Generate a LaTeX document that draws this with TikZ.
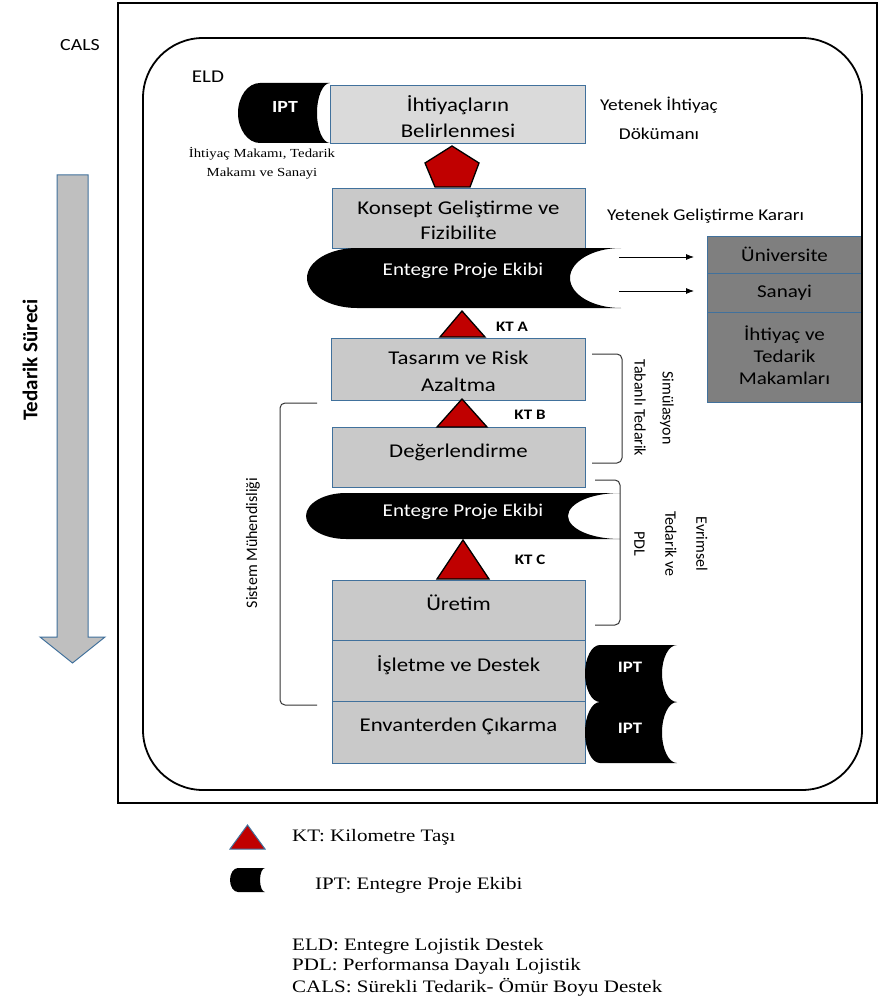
\documentclass[tikz,border=0pt]{standalone}
\usepackage{fontspec}
\setmainfont{Carlito}[FakeStretch=1.17]
\newfontfamily\rotfont{Carlito}
\newfontfamily\seriffont{Liberation Serif}[FakeStretch=1.2]
\usetikzlibrary{arrows.meta}
\definecolor{boxgray}{HTML}{C9C9C9}
\definecolor{lightbox}{HTML}{DADADA}
\definecolor{darkbox}{HTML}{7F7F7F}
\definecolor{boxline}{HTML}{41719C}
\definecolor{ktred}{HTML}{C00000}
\definecolor{arrowgray}{HTML}{BFBFBF}
\newcommand{\fs}[2]{\fontsize{#1}{#2}\selectfont}
\begin{document}
\begin{tikzpicture}[x=1pt,y=-1pt,
  box/.style={draw=boxline, line width=1.2pt, fill=boxgray, inner sep=0pt, anchor=north west, minimum width=253pt},
  rbox/.style={box, fill=darkbox, minimum width=155pt},
  btext/.style={inner sep=0pt, align=center, font=\fs{19.5}{26}},
  rtext/.style={inner sep=0pt, align=center, font=\fs{18}{22}},
  ipttext/.style={inner sep=0pt, text=white, font=\fs{18}{22}},
  iptsmall/.style={inner sep=0pt, text=white, font=\bfseries\fs{16}{20}},
  kt/.style={fill=ktred, draw=black, line width=1.3pt, line join=miter},
  ktlabel/.style={inner sep=0pt, font=\bfseries\fs{14.5}{18}},
  bracket/.style={draw=black!80, line width=1pt, rounded corners=5pt},
  vtext/.style={inner sep=0pt, align=center, font=\rotfont\fs{16}{28}},
  legendtext/.style={inner sep=0pt, anchor=west, font=\seriffont\fs{17.5}{20}},
  conn/.style={-{Latex[length=8pt,width=6pt]}, line width=0.8pt},
  iptfill/.style={fill=black}
]
\useasboundingbox (0,0) rectangle (879,1003);
\fill[white] (0,0) rectangle (879,1003);

% outer frame
\draw[line width=1.8pt] (118,3) rectangle (877,803);

% process arrow
\draw[draw=boxline, fill=arrowgray, line width=1pt, line join=miter]
  (57,175) -- (88,175) -- (88,637) -- (105,637) -- (72.5,663) -- (40,637) -- (57,637) -- cycle;
\node[rotate=90, inner sep=0pt, font=\rotfont\bfseries\fs{21}{24}] (ts) at (30,360) {Tedarik Süreci};

\node[inner sep=0pt, font=\fs{17}{20}] (cals) at (80,45) {CALS};
\node[inner sep=0pt, font=\fs{18}{20}] (eld) at (208,77) {ELD};

% top IPT
\fill[iptfill] (330,83) -- (260,83) arc[start angle=270, end angle=90, x radius=22, y radius=30]
  -- (330,143) arc[start angle=90, end angle=270, x radius=13, y radius=30] -- cycle;
\node[ipttext, font=\bfseries\fs{17}{20}] (ipt0) at (285,107) {IPT};
\node[inner sep=0pt, align=center, font=\seriffont\fs{12.3}{19}] (cap0) at (262,163) {İhtiyaç Makamı, Tedarik\\Makamı ve Sanayi};

% boxes
\node[box, fill=lightbox, minimum width=255pt, minimum height=58pt] (b1) at (330,85) {};
\node[btext] (t1) at (458,117) {İhtiyaçların\\Belirlenmesi};
\node[box, minimum height=60pt] (b2) at (332,188) {};
\node[btext, font=\fs{19.5}{25}] (t2) at (458.5,220.5) {Konsept Geliştirme ve\\Fizibilite};
\node[box, minimum width=254pt, minimum height=62pt] (b3) at (331,338) {};
\node[btext, font=\fs{19.5}{27}] (t3) at (458.5,371.5) {Tasarım ve Risk\\Azaltma};
\node[box, minimum height=60pt] (b4) at (332,427) {};
\node[btext] (t4) at (458.5,452) {Değerlendirme};
\node[box, minimum height=60pt] (b5) at (332,580) {};
\node[btext] (t5) at (458.5,603) {Üretim};
\node[box, minimum height=61pt] (b6) at (332,640) {};
\node[btext] (t6) at (458.5,665) {İşletme ve Destek};
\node[box, minimum height=62pt] (b7) at (332,701) {};
\node[btext] (t7) at (458.5,726) {Envanterden Çıkarma};

% side texts
\node[inner sep=0pt, align=center, font=\fs{16.5}{29}] (yid) at (659,118.5) {Yetenek İhtiyaç\\Dökümanı};
\node[inner sep=0pt, font=\fs{16.5}{20}] (ygk) at (705.5,216) {Yetenek Geliştirme Kararı};

% big IPT 1
\fill[iptfill] (621,248) -- (357,248) arc[start angle=270, end angle=90, x radius=50, y radius=30]
  -- (621,308) arc[start angle=90, end angle=270, x radius=51, y radius=30] -- cycle;
\node[ipttext] (ipt1) at (463,271) {Entegre Proje Ekibi};

% right stack
\node[rbox, minimum height=37pt] (uni) at (707,236) {};
\node[rbox, minimum height=39pt] (san) at (707,273) {};
\node[rbox, minimum height=90pt] (mak) at (707,312) {};
\node[rtext] (tuni) at (784.5,254) {Üniversite};
\node[rtext] (tsan) at (784.5,293) {Sanayi};
\node[rtext] (tmak) at (784.5,355) {İhtiyaç ve\\Tedarik\\Makamları};

\coordinate (a1) at (619,257);
\coordinate (a2) at (619,291);
\draw[conn, shorten >=13pt] (a1) -- (a1 -| uni.west);
\draw[conn, shorten >=13pt] (a2) -- (a2 -| san.west);

% big IPT 2
\fill[iptfill] (620,493) -- (346,493) arc[start angle=270, end angle=90, x radius=40, y radius=23]
  -- (620,539) arc[start angle=90, end angle=270, x radius=52, y radius=23] -- cycle;
\node[ipttext] (ipt2) at (463,512) {Entegre Proje Ekibi};

% small IPTs
\fill[iptfill] (677,645) -- (600,645) arc[start angle=270, end angle=90, x radius=15, y radius=28.5]
  -- (677,702) arc[start angle=90, end angle=270, x radius=15, y radius=28.5] -- cycle;
\fill[iptfill] (677,702) -- (600,702) arc[start angle=270, end angle=90, x radius=15, y radius=30.5]
  -- (677,763) arc[start angle=90, end angle=270, x radius=15, y radius=30.5] -- cycle;
\node[iptsmall] (ipt3) at (630,667) {IPT};
\node[iptsmall] (ipt4) at (630,728) {IPT};

% milestones
\draw[kt] (452,146) -- (479,163) -- (470,187) -- (435,187) -- (425,163) -- cycle;
\draw[kt] (440,337) -- (462,311) -- (485,337) -- cycle;
\draw[kt] (437,427) -- (462,399) -- (487,427) -- cycle;
\draw[kt] (437,579) -- (463,540) -- (489,579) -- cycle;
\node[ktlabel] (kta) at (512,327) {KT A};
\node[ktlabel] (ktb) at (530,415) {KT B};
\node[ktlabel] (ktc) at (530,560) {KT C};

% brackets
\draw[bracket] (592,354) -| (622,463) -- (592,463);
\draw[bracket] (595,480) -| (620,625) -- (595,625);
\draw[bracket] (317,403) -| (280,705) -- (317,705);
\node[vtext, rotate=-90] (sim) at (654,408) {Simülasyon\\Tabanlı Tedarik};
\node[vtext, rotate=-90, font=\rotfont\fs{16}{31}] (evr) at (671,544) {Evrimsel\\Tedarik ve\\PDL};
\node[vtext, rotate=90] (sis) at (253,543) {Sistem Mühendisliği};

% rounded frame
\draw[line width=1.8pt, rounded corners=60pt] (143,38) rectangle (862,790);

% legend
\draw[fill=ktred, draw=boxline, line width=1pt] (230,849) -- (247.5,825) -- (265,849) -- cycle;
\fill[iptfill] (265,868) -- (238,868) arc[start angle=270, end angle=90, x radius=8, y radius=12]
  -- (265,892) arc[start angle=90, end angle=270, x radius=5, y radius=12] -- cycle;
\node[legendtext] (lkt) at (292,837) {KT: Kilometre Taşı};
\node[legendtext] (lipt) at (315,885) {IPT: Entegre Proje Ekibi};
\node[legendtext] (leld) at (292,946) {ELD: Entegre Lojistik Destek};
\node[legendtext] (lpdl) at (292,966) {PDL: Performansa Dayalı Lojistik};
\node[legendtext] (lcals) at (292,987) {CALS: Sürekli Tedarik- Ömür Boyu Destek};
\end{tikzpicture}
\end{document}
